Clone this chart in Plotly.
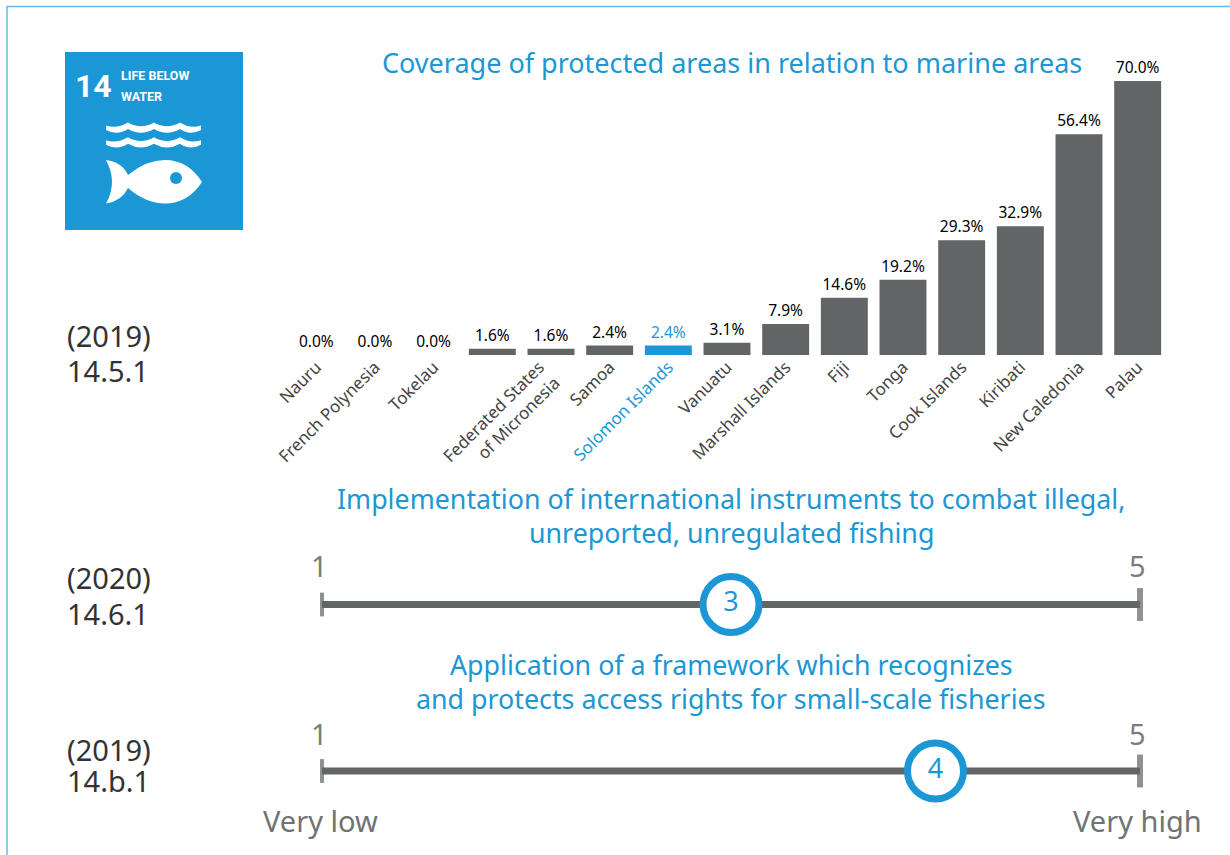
import plotly.graph_objects as go

W, H = 1230, 855
countries = ["Nauru", "French Polynesia", "Tokelau", "", "Federated States<br>of Micronesia", "Samoa",
             "Solomon Islands", "Vanuatu", "Marshall Islands", "Fiji", "Tonga", "Cook Islands",
             "Kiribati", "New Caledonia", "Palau"]
tick_pos = [0, 1, 2, 3, 3.8, 5, 6, 7, 8, 9, 10, 11, 12, 13, 14]
coverage = [0.0, 0.0, 0.0, 1.6, 1.6, 2.4, 2.4, 3.1, 7.9, 14.6, 19.2, 29.3, 32.9, 56.4, 70.0]
scale_ends = [1, 5]
score_641 = [3]
score_b1 = [4]

BLUE = "#1C97D5"
GREY = "#616565"
FONT = "Noto Sans"


def fx(x):
    return x / W


def fy(y):
    return 1 - y / H


def path(cmds):
    out = []
    for c, *pts in cmds:
        s = c
        s += " ".join(f"{fx(pts[i]):.5f},{fy(pts[i + 1]):.5f}" for i in range(0, len(pts), 2))
        out.append(s)
    return " ".join(out) + " Z"


idx = list(range(len(coverage)))
fig = go.Figure()
fig.add_bar(x=idx, y=coverage, width=0.8,
            marker=dict(color=[BLUE if c == "Solomon Islands" else GREY for c in countries], line_width=0),
            text=[f"{v:.1f}%" for v in coverage], textposition="outside", cliponaxis=False,
            textfont=dict(family=FONT, size=15.5, color=[BLUE if c == "Solomon Islands" else "#000000" for c in countries]),
            xaxis="x", yaxis="y", showlegend=False)

for score, xa, ya in [(score_641, "x2", "y2"), (score_b1, "x3", "y3")]:
    fig.add_scatter(x=scale_ends, y=[0, 0], mode="lines+markers", cliponaxis=False,
                    line=dict(color=GREY, width=7),
                    marker=dict(symbol="line-ns", size=[17, 23.5], line=dict(color=GREY, width=[4, 6])),
                    xaxis=xa, yaxis=ya, showlegend=False)
    fig.add_scatter(x=score, y=[0], mode="markers+text", cliponaxis=False,
                    marker=dict(size=56, color="white", line=dict(color=BLUE, width=7)),
                    text=[str(v) for v in score], textposition="middle center",
                    textfont=dict(family=FONT, size=27, color=BLUE),
                    xaxis=xa, yaxis=ya, showlegend=False)

ticktext = [f'<span style="color:{BLUE}">{c}</span>' if c == "Solomon Islands" else c for c in countries]

hidden = dict(visible=False, fixedrange=True, automargin=False)
fig.update_layout(
    width=W, height=H, margin=dict(l=0, r=0, t=0, b=0), autosize=False,
    paper_bgcolor="white", plot_bgcolor="rgba(0,0,0,0)", bargap=0.2,
    xaxis=dict(domain=[fx(287), fx(1167)], range=[-0.5, 14.5], tickmode="array", tickvals=tick_pos, ticktext=ticktext,
               tickangle=-45, tickfont=dict(family=FONT, size=17, color="#444444"), ticks="", showline=False,
               showgrid=False, zeroline=False, anchor="y", automargin=False, ticklabelstandoff=-2),
    yaxis=dict(domain=[fy(355), fy(81)], range=[0, 70], visible=False, anchor="x", automargin=False),
    xaxis2=dict(domain=[fx(322), fx(1140)], range=[1, 5], anchor="y2", **hidden),
    yaxis2=dict(domain=[fy(624.5), fy(584.5)], range=[-1, 1], anchor="x2", **hidden),
    xaxis3=dict(domain=[fx(322), fx(1140)], range=[1, 5], anchor="y3", **hidden),
    yaxis3=dict(domain=[fy(791), fy(751)], range=[-1, 1], anchor="x3", **hidden),
)


def note(text, x, y, size, color, anchor="center", family=FONT, xref="paper", xshift=0):
    fig.add_annotation(text=text, x=x if xref != "paper" else fx(x), y=fy(y), xref=xref, yref="paper",
                       xanchor=anchor, yanchor="middle", showarrow=False, align=anchor, xshift=xshift,
                       font=dict(family=family, size=size, color=color))


note("Coverage of protected areas in relation to marine areas", 731.5, 62, 27, BLUE)
note("Implementation of international instruments to combat illegal,", 731, 498, 26.8, BLUE)
note("unreported, unregulated fishing", 731, 532, 26.8, BLUE)
note("Application of a framework which recognizes", 731, 664, 26.8, BLUE)
note("and protects access rights for small-scale fisheries", 731, 698, 26.8, BLUE)

for t, y in [("(2019)", 335), ("14.5.1", 371), ("(2020)", 577), ("14.6.1", 613), ("(2019)", 749), ("14.b.1", 780)]:
    note(t, 65, y, 29, "#333333", anchor="left")

for xa, y in [("x2", 565), ("x3", 733)]:
    for v in scale_ends:
        note(str(v), v, y, 29, "#7a7d7d", xref=xa, xshift=-3)
note("Very low", 320.5, 820, 29, "#6f7373")
note("Very high", 1137.5, 820, 29, "#6f7373")

# logo
note("<b>14</b>", 93, 86, 32, "white", family="Roboto")
note("<b>LIFE BELOW</b>", 119, 75, 12.5, "white", anchor="left", family="Roboto")
note("<b>WATER</b>", 119, 96, 12.5, "white", anchor="left", family="Roboto")
shapes = [
    dict(type="rect", xref="paper", yref="paper", x0=fx(7), x1=fx(1300), y0=fy(6.5), y1=fy(900),
         line=dict(color="#5FBDE8", width=1.5), layer="below"),
    dict(type="rect", xref="paper", yref="paper", x0=fx(65), x1=fx(243), y0=fy(52), y1=fy(230),
         fillcolor=BLUE, line_width=0, layer="below"),
    dict(type="path", xref="paper", yref="paper", fillcolor="white", line_width=0, layer="below",
         path=path([("M", 106, 160), ("Q", 122, 162, 128, 175), ("Q", 146, 160, 165, 160), ("Q", 188, 160, 202, 182),
                    ("Q", 188, 203.5, 165, 203.5), ("Q", 146, 203.5, 128, 188), ("Q", 122, 201, 106, 203.5),
                    ("Q", 118, 182, 106, 160)])),
    dict(type="circle", xref="paper", yref="paper", x0=fx(170), x1=fx(182), y0=fy(172), y1=fy(184),
         fillcolor=BLUE, line_width=0, layer="below"),
]
for dy in (0, 14.7):
    shapes.append(dict(type="path", xref="paper", yref="paper", fillcolor="white", line_width=0, layer="below",
                       path=path([("M", 106, 125.5 + dy), ("Q", 117, 129 + dy, 128, 122.5 + dy),
                                  ("Q", 141, 130 + dy, 154, 122.5 + dy), ("Q", 167, 130 + dy, 180, 122.5 + dy),
                                  ("Q", 190, 129 + dy, 201, 125.5 + dy), ("L", 201, 130 + dy),
                                  ("Q", 190, 136 + dy, 180, 129 + dy), ("Q", 167, 136.5 + dy, 154, 129 + dy),
                                  ("Q", 141, 136.5 + dy, 128, 129 + dy), ("Q", 117, 136 + dy, 106, 130 + dy)])))
fig.update_layout(shapes=shapes)

fig.write_html("out.html", post_script="document.body.style.margin='0';document.body.style.overflow='hidden';",
               config={"displayModeBar": False})
